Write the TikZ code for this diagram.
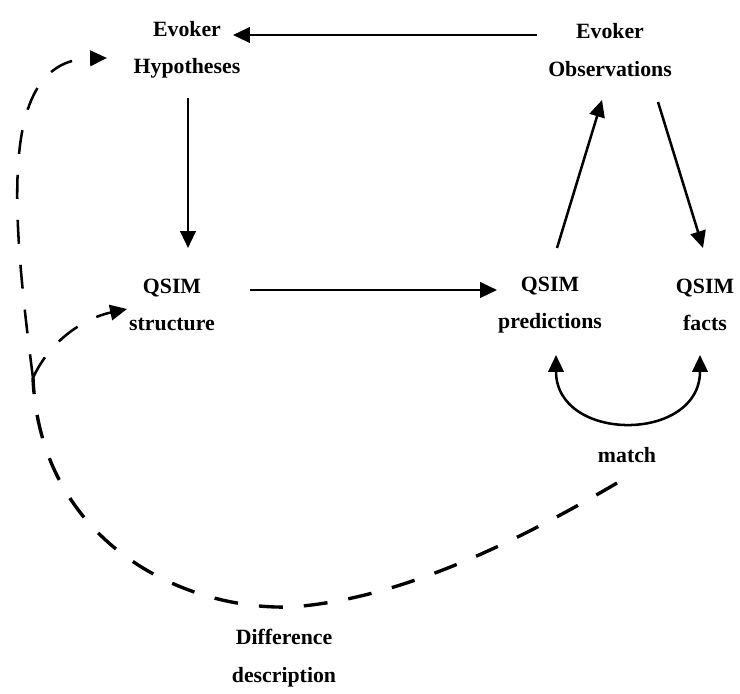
\documentclass[tikz,border=0pt]{standalone}
\usepackage{fontspec}
\setmainfont{Liberation Serif}
\usetikzlibrary{arrows.meta,calc}
\begin{document}
\begin{tikzpicture}[
        x=0.025cm, y=-0.025cm,
        >={Triangle[length=12pt,width=11pt]},
        term/.style={
            align=center,
            inner sep=0pt,
            font=\fontsize{15.5}{26.7}\selectfont\bfseries
        },
        arrow/.style={line width=1.8pt,->},
        feedback/.style={line width=2.4pt,dash pattern=on 17pt off 15pt}
    ]
    \useasboundingbox (0,0) rectangle (740,694);

    % Nodes
    \node (hyp) [term] at (187,50) {Evoker\\Hypotheses};

    \node (obs) [term] at (610,50) {Evoker\\Observations};

    \node (struct) [term] at (172,305) {QSIM\\structure};

    \node (pred) [term] at (550,305) {QSIM\\predictions};

    \node (facts) [term] at (705,305) {QSIM\\facts};

    \node (match) [term] at (627,455) {match};

    \node (diff) [term] at (284,658) {Difference\\description};

    \coordinate (fork) at (33,378);

    % Arrows
    \draw[arrow] ($(obs)+(-73,-15)$) -- ($(hyp)+(46,-15)$);
    \draw[arrow] ($(hyp)+(1,48)$) -- ($(struct)+(16,-57)$);
    \draw[arrow] ($(struct)+(78,-15)$) -- ($(pred)+(-53,-15)$);
    \draw[arrow] ($(pred)+(7,-57)$) -- ($(obs)+(-8,50)$);
    \draw[arrow] ($(obs)+(48,52)$) -- ($(facts)+(-2,-57)$);
    \draw[arrow,<->] ($(pred)+(6,50)$) .. controls +(0,88) and +(0,88) .. ($(facts)+(-5,50)$);

    % Difference feedback
    \draw[feedback] ($(match)+(-10,28)$) .. controls (520,540) and (400,600) .. ($(diff)+(6,-51)$)
        .. controls (180,610) and (40,540) .. (fork);
    \draw[feedback,arrow] (fork) .. controls (10,200) and (0,60) .. ($(hyp)+(-80,8)$);
    \draw[feedback,arrow] (fork) .. controls (50,340) and (85,318) .. ($(struct)+(-45,4)$);

\end{tikzpicture}
\end{document}
